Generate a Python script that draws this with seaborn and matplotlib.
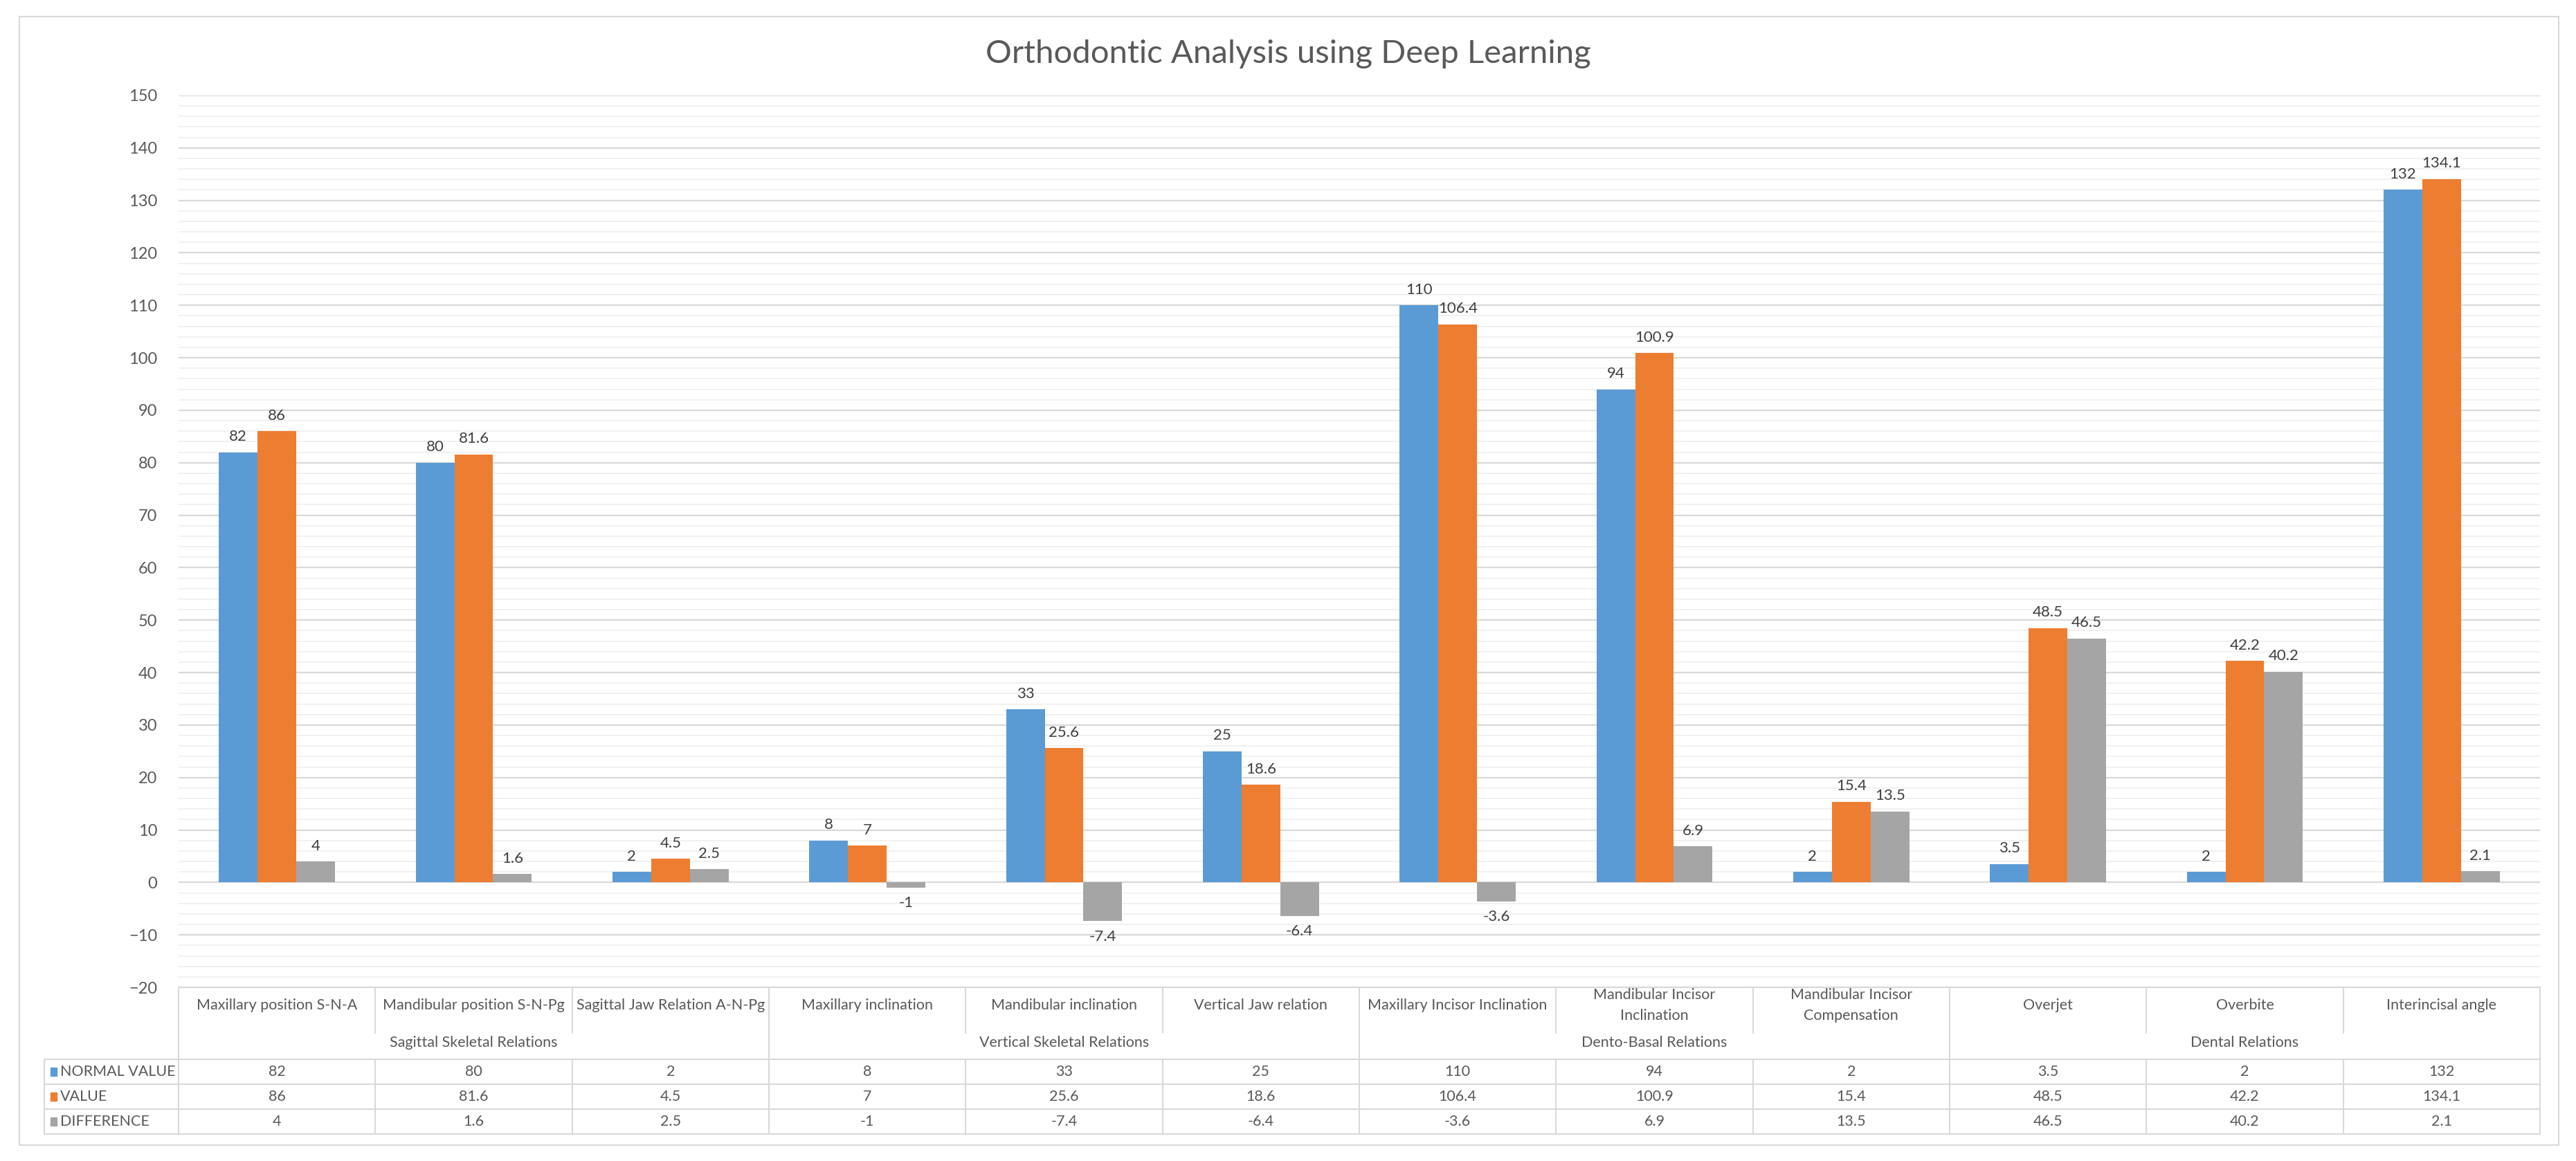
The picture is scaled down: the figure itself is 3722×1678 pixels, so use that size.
import numpy as np
import pandas as pd
import matplotlib
matplotlib.use("Agg")
import matplotlib.pyplot as plt
from matplotlib.patches import Rectangle
from matplotlib.lines import Line2D
from matplotlib.ticker import MultipleLocator
import seaborn as sns

# ---- data ----
categories = [
    "Maxillary position S-N-A", "Mandibular position S-N-Pg", "Sagittal Jaw Relation A-N-Pg",
    "Maxillary inclination", "Mandibular inclination", "Vertical Jaw relation",
    "Maxillary Incisor Inclination", "Mandibular Incisor\nInclination", "Mandibular Incisor\nCompensation",
    "Overjet", "Overbite", "Interincisal angle",
]
groups = ["Sagittal Skeletal Relations", "Vertical Skeletal Relations",
          "Dento-Basal Relations", "Dental Relations"]
series = ["NORMAL VALUE", "VALUE", "DIFFERENCE"]
normal_value = [82, 80, 2, 8, 33, 25, 110, 94, 2, 3.5, 2, 132]
value = [86, 81.6, 4.5, 7, 25.6, 18.6, 106.4, 100.9, 15.4, 48.5, 42.2, 134.1]
difference = [4, 1.6, 2.5, -1, -7.4, -6.4, -3.6, 6.9, 13.5, 46.5, 40.2, 2.1]
colors = ["#5B9BD5", "#ED7D31", "#A5A5A5"]

values = [normal_value, value, difference]
df = pd.DataFrame({
    "category": np.tile(categories, 3),
    "series": np.repeat(series, len(categories)),
    "value": np.concatenate(values),
})

sns.set_theme(style="white")
plt.rcParams['font.family'] = ['Lato', 'DejaVu Sans']

W, H = 3723, 1678
fig = plt.figure(figsize=(W / 100, H / 100), dpi=100)

# layout in pixels
ax_left, ax_right, ax_top, ax_bottom = 258, 3670, 138, 1427
tab_bottom = 1639
ax = fig.add_axes([ax_left / W, 1 - ax_bottom / H, (ax_right - ax_left) / W, (ax_bottom - ax_top) / H])

sns.barplot(data=df, x="category", y="value", hue="series", hue_order=series,
            order=categories, palette=colors, saturation=1, width=0.59, gap=0,
            errorbar=None, linewidth=0, legend=False, ax=ax, zorder=3)

for cont, vals in zip(ax.containers, values):
    ax.bar_label(cont, labels=[f"{v:g}" for v in vals], padding=9,
                 fontsize=16, color="#404040")

ax.set_xlim(-0.5, len(categories) - 0.5)
ax.set_ylim(-20, 150)
ax.yaxis.set_major_locator(MultipleLocator(10))
ax.yaxis.set_minor_locator(MultipleLocator(2))
ax.grid(which="major", axis="y", color="#D9D9D9", linewidth=1.6, zorder=0)
ax.grid(which="minor", axis="y", color="#F0F0F0", linewidth=1.3, zorder=0)
ax.set_axisbelow(True)
ax.tick_params(axis="y", which="both", length=0, labelsize=17, labelcolor="#595959", pad=22)
ax.set_xticks([])
ax.set_xlabel("")
ax.set_ylabel("")
for s in ax.spines.values():
    s.set_visible(False)

# ---- data table under the plot ----
tab = fig.add_axes([ax_left / W, 1 - tab_bottom / H, (ax_right - ax_left) / W, (tab_bottom - ax_bottom) / H])
tab.set_xlim(-0.5, len(categories) - 0.5)
tab.set_ylim(tab_bottom - ax_bottom, 0)
tab.axis("off")

cat_w = (ax_right - ax_left) / len(categories)
leg_left = -0.5 - (ax_left - 64) / cat_w
head_h, row_h = 104, 36
line_c, txt_c = "#D9D9D9", "#595959"
n = len(categories)

def hline(x0, x1, y):
    tab.add_line(Line2D([x0, x1], [y, y], color=line_c, lw=1.5, clip_on=False))

def vline(x, y0, y1):
    tab.add_line(Line2D([x, x], [y0, y1], color=line_c, lw=1.5, clip_on=False))

hline(-0.5, n - 0.5, 0)
for r in range(4):
    hline(leg_left, n - 0.5, head_h + r * row_h)
vline(leg_left, head_h, head_h + 3 * row_h)
for i in range(n + 1):
    x = i - 0.5
    if i % 3 == 0:
        vline(x, 0, head_h + 3 * row_h)
    else:
        vline(x, 0, 66)
        vline(x, head_h, head_h + 3 * row_h)

for i, c in enumerate(categories):
    tab.text(i, 26, c, ha="center", va="center", fontsize=15.5, color=txt_c, linespacing=1.6)
for g, name in enumerate(groups):
    tab.text(3 * g + 1, 80, name, ha="center", va="center", fontsize=15.5, color=txt_c)

for r, (name, vals, col) in enumerate(zip(series, values, colors)):
    yc = head_h + r * row_h + row_h / 2
    tab.add_patch(Rectangle((leg_left + 0.03, yc - 6), 0.035, 12, color=col, clip_on=False))
    tab.text(leg_left + 0.08, yc, name, ha="left", va="center", fontsize=15.5, color=txt_c)
    for i, v in enumerate(vals):
        tab.text(i, yc, f"{v:g}", ha="center", va="center", fontsize=15.5, color=txt_c)

# ---- title and chart frame ----
fig.text(0.5, 1 - 78 / H, "Orthodontic Analysis using Deep Learning", ha="center", va="center",
         fontsize=34, color="#595959")
fig.add_artist(Rectangle((28 / W, 1 - 1655 / H), (3697 - 28) / W, (1655 - 24) / H,
                         transform=fig.transFigure, fill=False, edgecolor="#D9D9D9", lw=1.5))

fig.savefig("out.png", dpi=100, facecolor="white")
